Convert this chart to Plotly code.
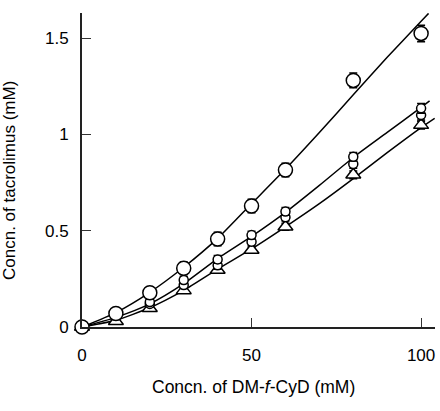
import plotly.graph_objects as go

# Measured data (concentration of DM-f-CyD, mM)
conc = [0, 10, 20, 30, 40, 50, 60, 80, 100]

# Concentration of tacrolimus (mM)
big_circle = [0.0, 0.07, 0.178, 0.305, 0.457, 0.628, 0.815, 1.28, 1.524]
big_circle_err = [0.01, 0.02, 0.03, 0.033, 0.035, 0.035, 0.035, 0.038, 0.043]

small_circle_a = [0.0, 0.07, 0.13, 0.244, 0.351, 0.477, 0.60, 0.884, 1.135]
small_circle_a_err = [0.01, 0.01, 0.015, 0.018, 0.02, 0.02, 0.02, 0.022, 0.025]

small_circle_b = [0.0, 0.06, 0.12, 0.218, 0.32, 0.443, 0.57, 0.846, 1.10]
small_circle_b_err = [0.01, 0.01, 0.015, 0.018, 0.02, 0.02, 0.02, 0.022, 0.025]

triangle = [0.0, 0.03, 0.097, 0.19, 0.296, 0.40, 0.52, 0.79, 1.048]
triangle_err = [0.01, 0.01, 0.012, 0.015, 0.015, 0.015, 0.018, 0.02, 0.02]

# Fitted curves
fit_top_x = [0, 10, 20, 30, 40, 50, 60, 70, 80, 90, 100, 102.2]
fit_top_y = [0.0, 0.075, 0.18, 0.31, 0.46, 0.64, 0.82, 1.01, 1.205, 1.40, 1.587, 1.628]

fit_mid_x = [0, 10, 20, 30, 40, 50, 60, 70, 80, 90, 100, 102.5]
fit_mid_y = [0.0, 0.05, 0.12, 0.225, 0.355, 0.47, 0.595, 0.735, 0.88, 1.01, 1.14, 1.174]

fit_low_x = [0, 10, 20, 30, 40, 50, 60, 70, 80, 90, 100, 104]
fit_low_y = [0.0, 0.035, 0.10, 0.19, 0.30, 0.405, 0.52, 0.64, 0.77, 0.905, 1.035, 1.083]

x_ticks = [0, 50, 100]
x_tick_text = ["0", "50", "100"]
y_ticks = [0, 0.5, 1, 1.5]
y_tick_text = ["0", "0.5", "1", "1.5"]

FONT = "Liberation Sans, Arial, sans-serif"

fig = go.Figure()

for fx, fy in [(fit_top_x, fit_top_y), (fit_mid_x, fit_mid_y), (fit_low_x, fit_low_y)]:
    fig.add_trace(go.Scatter(
        x=fx, y=fy, mode="lines",
        line=dict(color="black", width=1.5, shape="spline", smoothing=0.6),
        hoverinfo="skip", cliponaxis=False, showlegend=False))

def add_markers(y, err, symbol, size):
    fig.add_trace(go.Scatter(
        x=conc, y=y, mode="markers",
        marker=dict(symbol=symbol, size=size, color="white",
                    line=dict(color="black", width=1.5)),
        error_y=dict(type="data", array=err, visible=True, color="black",
                     thickness=1.5, width=4),
        cliponaxis=False, showlegend=False))

add_markers(triangle, triangle_err, "triangle-up", 13)
add_markers(small_circle_b, small_circle_b_err, "circle", 9)
add_markers(small_circle_a, small_circle_a_err, "circle", 9)
add_markers(big_circle, big_circle_err, "circle", 14)

fig.update_layout(
    width=440, height=411,
    margin=dict(l=82, r=5, t=13, b=84),
    paper_bgcolor="white", plot_bgcolor="white",
    font=dict(family=FONT, size=17, color="black"),
    showlegend=False,
)
fig.update_xaxes(
    range=[0, 104.1], showgrid=False, zeroline=False,
    showline=True, linecolor="#222", linewidth=2,
    ticks="inside", ticklen=9, tickwidth=1, tickcolor="#333",
    tickvals=x_ticks, ticktext=x_tick_text, ticklabelstandoff=12,
    tickfont=dict(family=FONT, size=17),
)
fig.update_yaxes(
    range=[0, 1.63], showgrid=False, zeroline=False,
    showline=True, linecolor="#222", linewidth=2,
    ticks="inside", ticklen=9, tickwidth=1, tickcolor="#333",
    tickvals=y_ticks, ticktext=y_tick_text, ticklabelstandoff=8,
    tickfont=dict(family=FONT, size=17),
)

fig.add_annotation(
    text="Concn. of DM-<i>f</i>-CyD (mM)", xref="paper", yref="paper",
    x=0.485, y=0, yshift=-60, xanchor="center", yanchor="middle",
    showarrow=False, font=dict(family=FONT, size=17.5))
fig.add_annotation(
    text="Concn. of tacrolimus (mM)", xref="paper", yref="paper",
    x=0, xshift=-72, y=0.465, xanchor="center", yanchor="middle",
    textangle=-90, showarrow=False, font=dict(family=FONT, size=17))

fig.write_html("out.html")
